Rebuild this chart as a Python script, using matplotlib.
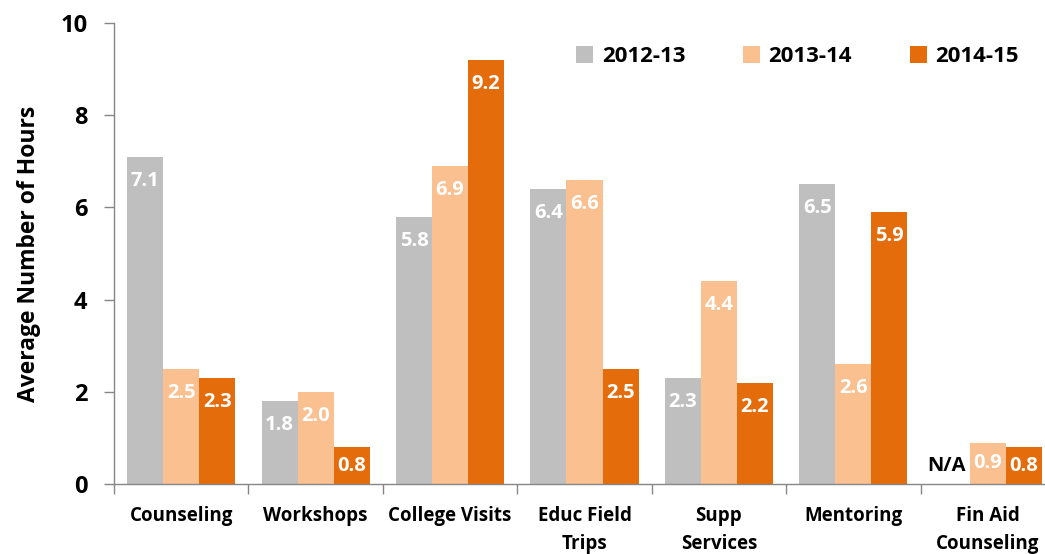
import numpy as np
import matplotlib
matplotlib.use("Agg")
import matplotlib.pyplot as plt

plt.rcParams['font.family'] = ['Open Sans', 'DejaVu Sans']
plt.rcParams['font.weight'] = 'bold'

categories = ["Counseling", "Workshops", "College Visits", "Educ Field\nTrips",
              "Supp\nServices", "Mentoring", "Fin Aid\nCounseling"]
series_names = ["2012-13", "2013-14", "2014-15"]
vals_1213 = [7.1, 1.8, 5.8, 6.4, 2.3, 6.5, None]
vals_1314 = [2.5, 2.0, 6.9, 6.6, 4.4, 2.6, 0.9]
vals_1415 = [2.3, 0.8, 9.2, 2.5, 2.2, 5.9, 0.8]
colors = ["#BFBFBF", "#FAC090", "#E46C0A"]

fig = plt.figure(figsize=(10.45, 5.54), dpi=100)
# axes runs a little past the right edge, like the cropped original
ax = fig.add_axes([114 / 1045, 70 / 554, 941 / 1045, 461 / 554])

x = np.arange(len(categories))
width = 0.268
all_vals = [vals_1213, vals_1314, vals_1415]

for i, (name, vals, col) in enumerate(zip(series_names, all_vals, colors)):
    xs = x + (i - 1) * width
    heights = [v if v is not None else 0 for v in vals]
    ax.bar(xs, heights, width=width, color=col, label=name, zorder=2)
    for xi, v in zip(xs, vals):
        if v is None:
            ax.text(xi - 0.04, 0.4, "N/A", ha='center', va='center', color='black',
                    fontsize=14.5, fontweight='bold')
            continue
        ylab = max(v - 0.52, v / 2)
        ax.text(xi, ylab, f"{v:.1f}", ha='center', va='center', color='white',
                fontsize=14.5, fontweight='bold')

ax.set_xlim(-0.5, len(categories) - 0.5)
ax.set_ylim(0, 10)
ax.set_yticks([0, 2, 4, 6, 8, 10])
ax.tick_params(axis='y', labelsize=17, length=7, color='#868686', width=1, pad=12)
ax.set_xticks(x)
ax.set_xticklabels(categories, fontsize=13.5, fontweight='bold', va='top', linespacing=1.5)
ax.tick_params(axis='x', which='major', length=0, pad=16)
ax.set_xticks(np.arange(len(categories) + 1) - 0.5, minor=True)
ax.tick_params(axis='x', which='minor', length=7, color='#868686', width=1)

for s in ['top', 'right']:
    ax.spines[s].set_visible(False)
for s in ['left', 'bottom']:
    ax.spines[s].set_color('#868686')
    ax.spines[s].set_linewidth(1)

ax.set_ylabel("Average Number of Hours", fontsize=16.5, fontweight='bold', labelpad=14)

leg = fig.legend(loc='upper right', bbox_to_anchor=(1030 / 1045, 1 - 35 / 554), ncol=3,
                 frameon=False, fontsize=16, handlelength=0.75, handleheight=0.75,
                 handletextpad=0.4, columnspacing=2.6, borderpad=0)

fig.savefig("out.png", dpi=100)
